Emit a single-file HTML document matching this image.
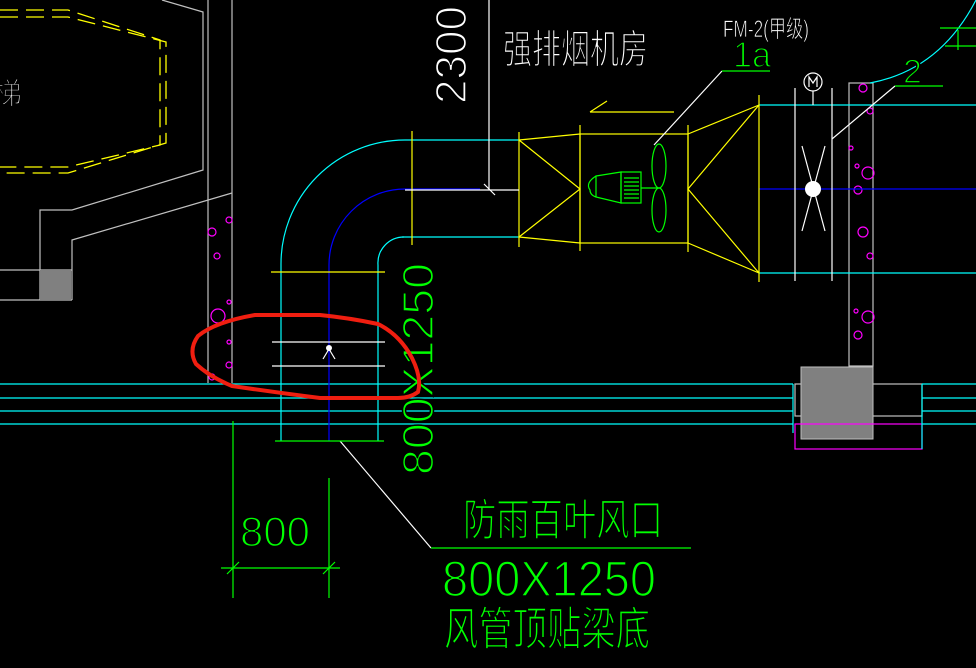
<!DOCTYPE html>
<html><head><meta charset="utf-8"><style>html,body{margin:0;padding:0;background:#000;}svg{display:block}</style></head>
<body>
<svg width="976" height="668" viewBox="0 0 976 668" xmlns="http://www.w3.org/2000/svg" font-family="Liberation Sans, Noto Sans CJK SC, sans-serif">
<rect width="976" height="668" fill="#000"/>
<g stroke="#ffff00" stroke-width="1.3" fill="none" stroke-dasharray="18,8">
<path d="M0 10 L68 10 L160 40 L160 145 L68 167 L0 167"/>
<path d="M0 17 L68 17 L166 42 L166 143 L68 173 L0 173"/>
</g>
<g stroke="#c0c0c0" stroke-width="1.2" fill="none">
<path d="M162 0 L203 12 L203 170 L72 210 L40 210 L40 300"/>
<path d="M232 193 L72 240 L72 300"/>
<line x1="208" y1="0" x2="208" y2="383"/>
<line x1="232" y1="0" x2="232" y2="383"/>
<line x1="0" y1="270" x2="72" y2="270"/>
<line x1="0" y1="300" x2="72" y2="300"/>
<rect x="849" y="83" width="24" height="283"/>
<rect x="795" y="384" width="127" height="32"/>
</g>
<rect x="40" y="270" width="31" height="30" fill="#808080"/>
<rect x="801" y="367" width="72" height="72" fill="#808080" stroke="#c0c0c0"/>
<rect x="795" y="424" width="127" height="25" fill="none" stroke="#ff00ff" stroke-width="1.2"/>
<g stroke="#ff00ff" fill="none" stroke-width="1.2">
<circle cx="229" cy="220" r="3"/><circle cx="212" cy="232" r="4"/><circle cx="217" cy="256" r="3"/><circle cx="229" cy="302" r="2"/><circle cx="218" cy="316" r="7"/><circle cx="229" cy="342" r="2"/><circle cx="229" cy="365" r="3"/><circle cx="212" cy="377" r="3"/>
<circle cx="863" cy="88" r="4"/><circle cx="870" cy="111" r="3"/><circle cx="851" cy="148" r="2"/><circle cx="857" cy="166" r="2"/><circle cx="868" cy="173" r="6"/><circle cx="858" cy="190" r="4"/><circle cx="863" cy="232" r="5"/><circle cx="870" cy="256" r="3"/><circle cx="856" cy="311" r="2"/><circle cx="868" cy="317" r="6"/><circle cx="858" cy="335" r="4"/>
</g>
<g stroke="#00ffff" stroke-width="1.2">
<line x1="0" y1="384" x2="793" y2="384"/><line x1="0" y1="398" x2="793" y2="398"/><line x1="0" y1="411" x2="793" y2="411"/><line x1="0" y1="424" x2="793" y2="424"/>
<line x1="793" y1="384" x2="793" y2="433"/><line x1="922" y1="384" x2="922" y2="449"/>
<line x1="922" y1="384" x2="976" y2="384"/><line x1="922" y1="398" x2="976" y2="398"/><line x1="922" y1="411" x2="976" y2="411"/><line x1="922" y1="424" x2="976" y2="424"/>
<line x1="759" y1="105" x2="976" y2="105"/><line x1="759" y1="273" x2="976" y2="273"/>
<line x1="405" y1="140" x2="519" y2="140"/><line x1="402" y1="237" x2="519" y2="237"/>
</g>
<g fill="none" stroke-width="1.2">
<path d="M281 441 L281 265 A124 124 0 0 1 405 140" stroke="#00ffff"/>
<path d="M378 441 L378 265 A26 26 0 0 1 404 237" stroke="#00ffff"/>
<path d="M329 441 L329 265 A76 76 0 0 1 405 189 L480 189" stroke="#0000ff"/>
<line x1="759" y1="189" x2="976" y2="189" stroke="#0000ff"/>
<path d="M870 83 Q940 70 976 0" stroke="#00ffff"/>
</g>
<g stroke="#ffff00" stroke-width="1.2" fill="none">
<line x1="412" y1="131" x2="412" y2="245"/>
<line x1="271" y1="272" x2="385" y2="272"/>
<line x1="519" y1="132" x2="519" y2="247"/>
<path d="M519 140 L580 134 M519 237 L580 243 M519 140 L580 189 L519 237"/>
<line x1="580" y1="125" x2="580" y2="251"/>
<rect x="580" y="134" width="108" height="109"/>
<line x1="688" y1="125" x2="688" y2="252"/>
<path d="M688 134 L759 105 M688 243 L759 273 M759 105 L688 189 L759 273"/>
<line x1="759" y1="95" x2="759" y2="282"/>
<path d="M590 112 L674 112 M590 112 L607 101"/>
</g>
<g stroke="#ffffff" stroke-width="1.2" fill="none">
<line x1="272" y1="342" x2="385" y2="342"/><line x1="272" y1="366" x2="385" y2="366"/>
<path d="M329 349 L323 359 M329 349 L335 359"/>
<line x1="489" y1="0" x2="489" y2="190"/><line x1="405" y1="190" x2="519" y2="190"/>
<line x1="484" y1="184" x2="495" y2="195"/>
<line x1="795" y1="88" x2="795" y2="281"/><line x1="832" y1="88" x2="832" y2="281"/>
<circle cx="813" cy="82" r="9"/><line x1="813" y1="91" x2="813" y2="105"/>
<path d="M809 87 L809 77 L813 83 L817 77 L817 87"/>
<path d="M802 146 L825 231 M825 146 L802 231"/>
<path d="M832 139 L895 86"/>
<path d="M654 145 L722 71"/>
<path d="M340 441 L431 548"/>
</g>
<circle cx="329" cy="348" r="3" fill="#fff"/>
<circle cx="813" cy="189" r="8" fill="#fff"/>
<g stroke="#00ff00" stroke-width="1.2" fill="none">
<path d="M596 176 L621 172 L621 203 L596 197 Z M596 176 Q585 183 590 190 Q590 195 596 197"/>
<rect x="621" y="172" width="20" height="31"/>
<path d="M624 178 H639 M624 182 H639 M624 186 H639 M624 190 H639 M624 194 H639 M624 198 H639"/>
<line x1="641" y1="188" x2="658" y2="188"/>
<ellipse cx="659" cy="166" rx="7" ry="22"/><ellipse cx="659" cy="210" rx="7" ry="22"/>
<line x1="722" y1="71" x2="770" y2="71"/>
<line x1="895" y1="86" x2="943" y2="86"/>
<path d="M940 28 H976 M945 46 H976 M958 30 V50"/>
<line x1="275" y1="441" x2="384" y2="441"/>
<line x1="233" y1="421" x2="233" y2="598"/><line x1="329" y1="478" x2="329" y2="598"/>
<line x1="221" y1="568" x2="340" y2="568"/>
<path d="M227 574 L239 562 M323 574 L335 562"/>
<line x1="431" y1="548" x2="691" y2="548"/>
</g>
<g font-size="40" fill="#ffffff" stroke="#000" stroke-width="1.5" paint-order="normal">
<text x="0" y="0" transform="translate(466,104) rotate(-90)" textLength="98" lengthAdjust="spacingAndGlyphs" font-size="44">2300</text>
<text x="503" y="63" textLength="145" lengthAdjust="spacingAndGlyphs">强排烟机房</text>
<text x="723" y="37" font-size="24" textLength="86" lengthAdjust="spacingAndGlyphs" stroke-width="0.8">FM-2(甲级)</text>
<text x="-8" y="104" font-size="30">梯</text>
</g>
<g fill="#00ff00" stroke="#000" stroke-width="1.5">
<text x="0" y="0" transform="translate(433,475) rotate(-90)" font-size="44" textLength="212" lengthAdjust="spacingAndGlyphs">800X1250</text>
<text x="733" y="67" font-size="36" textLength="38" lengthAdjust="spacingAndGlyphs">1a</text>
<text x="903" y="83" font-size="34">2</text>
<text x="240" y="546" font-size="42" textLength="70" lengthAdjust="spacingAndGlyphs">800</text>
<text x="463" y="535" font-size="44" textLength="200" lengthAdjust="spacingAndGlyphs">防雨百叶风口</text>
<text x="442" y="596" font-size="50" textLength="214" lengthAdjust="spacingAndGlyphs">800X1250</text>
<text x="444" y="645" font-size="46" textLength="206" lengthAdjust="spacingAndGlyphs">风管顶贴梁底</text>
</g>
<path d="M255 315 L320 315 Q350 318 378 324 Q400 335 412 358 Q422 378 418 392 Q410 398 398 398 L320 398 Q280 393 232 386 Q210 377 196 364 Q188 350 198 336 Q215 322 255 315 Z" fill="none" stroke="#f01e10" stroke-width="4"/>
</svg>
</body></html>
